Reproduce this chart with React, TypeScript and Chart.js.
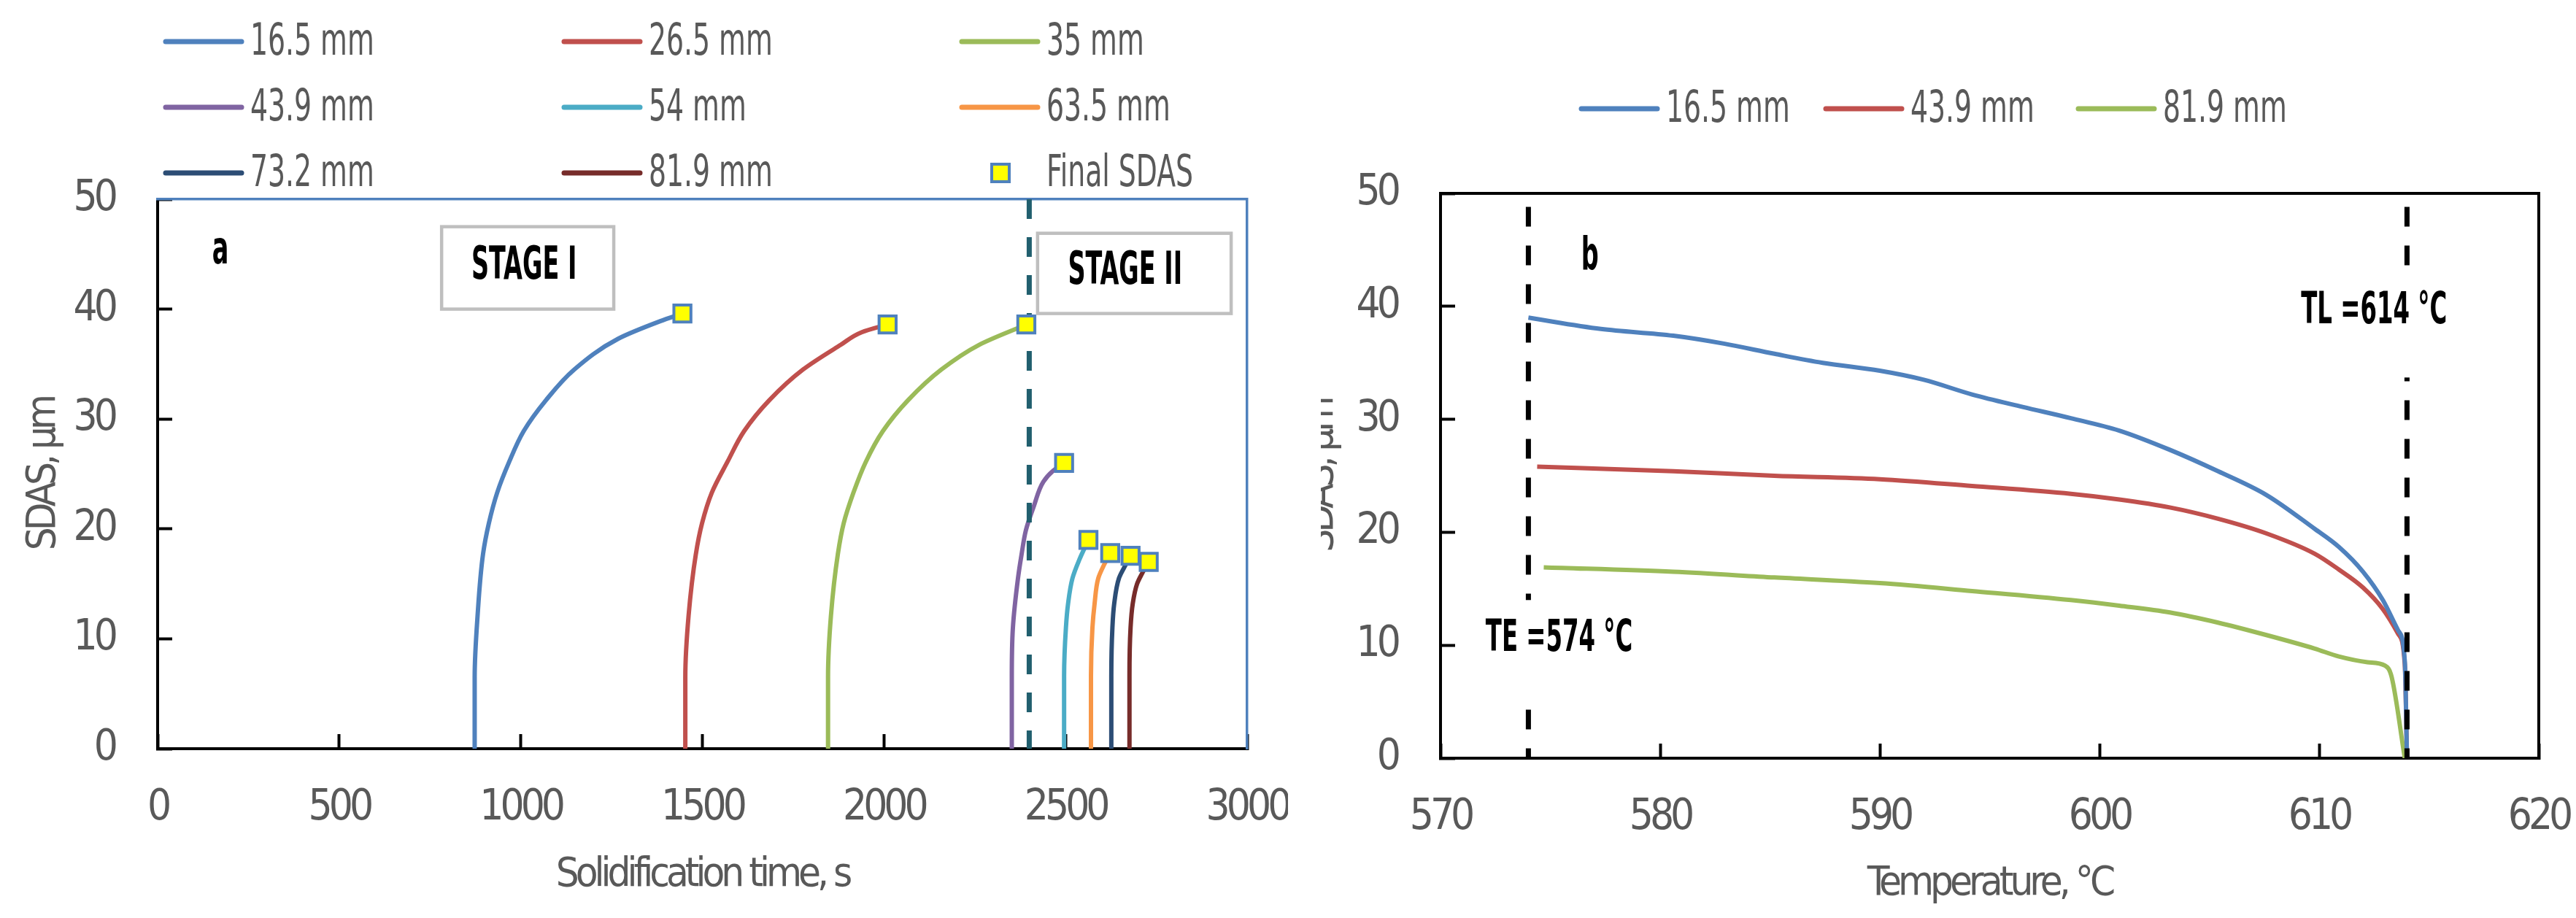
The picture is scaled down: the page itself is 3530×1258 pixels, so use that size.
import { useEffect, useRef } from "react";
import { Chart, registerables } from "chart.js";

Chart.register(...registerables);

const FONT = "'Liberation Sans Narrow', 'Arial Narrow', 'DejaVu Sans Condensed', sans-serif";
const GRAY = "#595959";

type Pair = [number, number];

// ---- panel a: SDAS vs solidification time ----
const distancesA = ["16.5 mm", "26.5 mm", "35 mm", "43.9 mm", "54 mm", "63.5 mm", "73.2 mm", "81.9 mm"];
const colorsA = ["#4F81BD", "#C0504D", "#9BBB59", "#8064A2", "#4BACC6", "#F79646", "#2C4D75", "#772C2A"];

const growth165: Pair[] = [[873, 0], [873, 6.5], [881, 12.1], [896, 17.7], [912, 20.5], [935, 23.3], [968, 26.1], [1008, 28.9], [1069, 31.7], [1147, 34.5], [1268, 37.3], [1384, 38.9], [1445, 39.6]];
const growth265: Pair[] = [[1453, 0], [1453, 6.5], [1462, 12.1], [1482, 17.7], [1499, 20.5], [1526, 23.3], [1569, 26.1], [1615, 28.9], [1684, 31.7], [1777, 34.5], [1881, 36.75], [1939, 37.9], [2010, 38.6]];
const growth35: Pair[] = [[1846, 0], [1846, 6.5], [1854, 12.1], [1873, 17.7], [1889, 20.5], [1916, 23.3], [1950, 26.1], [1997, 28.9], [2066, 31.7], [2158, 34.5], [2262, 36.75], [2392, 38.6]];
const growth439: Pair[] = [[2352, 0], [2352, 6.6], [2355, 11.0], [2369, 15.5], [2379, 17.7], [2391, 19.9], [2413, 22.1], [2439, 24.3], [2466, 25.3], [2496, 26.0]];
const growth54: Pair[] = [[2496, 0], [2496, 6.6], [2501, 11.0], [2507, 13.2], [2519, 15.5], [2538, 17.2], [2563, 19.0]];
const growth635: Pair[] = [[2570, 0], [2570, 6.6], [2574, 11.0], [2580, 13.2], [2590, 15.5], [2607, 16.8], [2623, 17.8]];
const growth732: Pair[] = [[2626, 0], [2626, 6.6], [2629, 11.0], [2634, 13.2], [2647, 15.5], [2660, 16.4], [2679, 17.55]];
const growth819: Pair[] = [[2676, 0], [2676, 6.6], [2679, 11.0], [2685, 13.2], [2697, 15.0], [2710, 15.9], [2729, 17.0]];
const growthA = [growth165, growth265, growth35, growth439, growth54, growth635, growth732, growth819];

const finalTime = [1445, 2010, 2392, 2496, 2563, 2623, 2679, 2729];
const finalSdas = [39.6, 38.6, 38.6, 26.0, 19.0, 17.8, 17.55, 17.0];
const stageBoundary = 2400;

// ---- panel b: SDAS vs temperature ----
const distancesB = ["16.5 mm", "43.9 mm", "81.9 mm"];
const colorsB = ["#4F81BD", "#C0504D", "#9BBB59"];

const temp165: Pair[] = [[574.0, 39.0], [577.3, 38.0], [580.6, 37.4], [582.9, 36.7], [585.2, 35.8], [587.4, 35.0], [590, 34.3], [592, 33.5], [594.2, 32.2], [596.5, 31.1], [598.7, 30.1], [600.9, 29.0], [603.2, 27.3], [605.4, 25.4], [607.6, 23.3], [609.8, 20.3], [610.9, 18.7], [612.0, 16.5], [612.9, 14.0], [613.6, 11.3], [613.9, 8.6], [614.0, 0]];
const temp439: Pair[] = [[574.4, 25.8], [580.6, 25.4], [585.2, 25.0], [590, 24.7], [594.2, 24.1], [598.7, 23.4], [600.9, 22.9], [603.2, 22.2], [605.4, 21.2], [607.6, 19.9], [609.8, 18.1], [610.9, 16.7], [612.0, 15.1], [612.9, 13.2], [613.6, 11.0], [613.9, 8.3], [614.0, 0]];
const temp819: Pair[] = [[574.7, 16.9], [580.6, 16.5], [585.2, 16.0], [590, 15.5], [594.2, 14.8], [598.7, 14.0], [600.9, 13.5], [603.2, 12.9], [605.4, 12.0], [607.6, 10.9], [609.8, 9.7], [610.9, 9.0], [612.2, 8.5], [613.0, 8.2], [613.3, 7.2], [613.9, 0]];
const tempB = [temp165, temp439, temp819];

const eutecticT = 574;
const liquidusT = 614;

const toPts = (a: Pair[]) => a.map(([x, y]) => ({ x, y }));

// the source uses a condensed face; tighten the fallback font for ticks and titles
const tightText = {
  id: "tightText",
  beforeDraw(chart: Chart, _a: unknown, opts: any) {
    (chart.ctx as any).letterSpacing = opts.spacing;
  },
  afterDraw(chart: Chart) {
    (chart.ctx as any).letterSpacing = "0px";
  },
};

// legend drawn in fixed slots (Excel-like grid)
const slotLegend = {
  id: "slotLegend",
  afterDraw(chart: Chart, _a: unknown, opts: any) {
    const { ctx } = chart;
    const items = chart.data.datasets.filter((d: any) => d.label);
    ctx.save();
    (ctx as any).letterSpacing = "0px";
    ctx.font = `60px ${FONT}`;
    ctx.textBaseline = "middle";
    items.forEach((ds: any, i: number) => {
      const s = opts.slots[i];
      if (!s) return;
      if (ds.showLine === false) {
        ctx.fillStyle = ds.pointBackgroundColor;
        ctx.strokeStyle = ds.pointBorderColor;
        ctx.lineWidth = 4;
        ctx.fillRect(s.x + 41, s.y - 12, 24, 24);
        ctx.strokeRect(s.x + 41, s.y - 12, 24, 24);
      } else {
        ctx.strokeStyle = ds.borderColor;
        ctx.lineWidth = 7;
        ctx.lineCap = "round";
        ctx.beginPath();
        ctx.moveTo(s.x, s.y);
        ctx.lineTo(s.x + 104, s.y);
        ctx.stroke();
      }
      ctx.save();
      ctx.translate(s.x + 116, s.y + 2);
      ctx.scale(0.7, 1);
      ctx.fillStyle = GRAY;
      ctx.fillText(ds.label, 0, 0);
      ctx.restore();
    });
    ctx.restore();
  },
};

// text labels and boxes placed in data coordinates
const overlay = {
  id: "overlay",
  afterDatasetsDraw(chart: Chart, _a: unknown, opts: any) {
    const { ctx } = chart;
    const xs = chart.scales.x;
    const ys = chart.scales.y;
    ctx.save();
    (ctx as any).letterSpacing = "0px";
    for (const b of opts.boxes || []) {
      const x1 = xs.getPixelForValue(b.x1);
      const x2 = xs.getPixelForValue(b.x2);
      const y1 = ys.getPixelForValue(b.y1);
      const y2 = ys.getPixelForValue(b.y2);
      ctx.fillStyle = "#fff";
      ctx.fillRect(x1, y1, x2 - x1, y2 - y1);
      if (b.stroke) {
        ctx.strokeStyle = b.stroke;
        ctx.lineWidth = 4.5;
        ctx.strokeRect(x1, y1, x2 - x1, y2 - y1);
      }
    }
    for (const t of opts.labels || []) {
      ctx.save();
      ctx.translate(xs.getPixelForValue(t.x), ys.getPixelForValue(t.y));
      ctx.scale(0.6, 1);
      ctx.font = `bold ${t.size}px ${FONT}`;
      ctx.fillStyle = "#000";
      ctx.textAlign = "center";
      ctx.textBaseline = "middle";
      ctx.fillText(t.text, 0, 0);
      ctx.restore();
    }
    ctx.restore();
  },
};

function mainAxes(xMin: number, xMax: number, xStep: number, xTitle: string, yTitlePad: number, yWidth: number, xHeight: number, xTitlePad: number) {
  const tickFont = { family: FONT, size: 58 };
  const titleFont = { family: FONT, size: 56 };
  const plain = (v: string | number) => String(v);
  return {
    x: {
      type: "linear" as const,
      min: xMin,
      max: xMax,
      ticks: { stepSize: xStep, color: GRAY, font: tickFont, padding: 67, maxRotation: 0, autoSkip: false, callback: plain },
      grid: { drawOnChartArea: false, tickLength: -20, tickWidth: 4, tickColor: "#000" },
      border: { color: "#000", width: 4 },
      title: { display: true, text: xTitle, color: GRAY, font: titleFont, padding: { top: 0, bottom: xTitlePad } },
      afterFit: (s: any) => {
        s.height = xHeight;
        s.paddingLeft = 0;
        s.paddingRight = 0;
      },
    },
    y: {
      type: "linear" as const,
      min: 0,
      max: 50,
      ticks: { stepSize: 10, color: GRAY, font: tickFont, padding: 79, callback: plain },
      grid: { drawOnChartArea: false, tickLength: -20, tickWidth: 4, tickColor: "#000" },
      border: { color: "#000", width: 4 },
      title: { display: true, text: "SDAS, µm", color: GRAY, font: titleFont, padding: { top: yTitlePad, bottom: 0 } },
      afterFit: (s: any) => {
        s.width = yWidth;
        s.paddingTop = 0;
        s.paddingBottom = 0;
      },
    },
  };
}

function frameAxes(color: string, width: number) {
  return {
    xTop: {
      type: "linear" as const,
      position: "top" as const,
      ticks: { display: false },
      grid: { display: false },
      border: { color, width },
      afterFit: (s: any) => { s.height = 0; },
    },
    yRight: {
      type: "linear" as const,
      position: "right" as const,
      ticks: { display: false },
      grid: { display: false },
      border: { color, width },
      afterFit: (s: any) => { s.width = 0; },
    },
  };
}

function PanelA() {
  const ref = useRef<HTMLCanvasElement>(null);
  useEffect(() => {
    if (!ref.current) return;
    // growth curves rise monotonically in SDAS, so interpolate along y
    const curves = growthA.map((pts, i) => ({
      label: distancesA[i],
      data: toPts(pts),
      indexAxis: "y",
      showLine: true,
      borderColor: colorsA[i],
      backgroundColor: colorsA[i],
      borderWidth: 6,
      pointRadius: 0,
      cubicInterpolationMode: "monotone",
      order: 2,
    }));
    const chart = new Chart(ref.current, {
      type: "scatter",
      data: {
        datasets: [
          ...curves,
          {
            label: "Final SDAS",
            data: finalTime.map((x, i) => ({ x, y: finalSdas[i] })),
            showLine: false,
            pointStyle: "rect",
            pointRadius: 16.5,
            pointBorderWidth: 4,
            pointBackgroundColor: "#FFFF00",
            pointBorderColor: "#4F81BD",
            order: 0,
          },
          {
            data: [{ x: stageBoundary, y: 50 }, { x: stageBoundary, y: 0 }],
            showLine: true,
            borderColor: "#215F6E",
            borderWidth: 7,
            borderDash: [27, 25],
            pointRadius: 0,
            order: 1,
          },
        ] as any,
      },
      options: {
        animation: false,
        responsive: true,
        maintainAspectRatio: false,
        events: [],
        layout: { padding: { top: 273, right: 56, left: 0, bottom: 0 } },
        scales: { ...mainAxes(0, 3000, 500, "Solidification time, s", 27, 216, 232, 25), ...frameAxes("#4F81BD", 3.5) } as any,
        plugins: {
          legend: { display: false },
          tooltip: { enabled: false },
          tightText: { spacing: "-5px" },
          slotLegend: {
            slots: [
              { x: 227, y: 57 }, { x: 773, y: 57 }, { x: 1318, y: 57 },
              { x: 227, y: 147 }, { x: 773, y: 147 }, { x: 1318, y: 147 },
              { x: 227, y: 237 }, { x: 773, y: 237 }, { x: 1318, y: 237 },
            ],
          },
          overlay: {
            boxes: [
              { x1: 782, x2: 1256, y1: 47.5, y2: 40.0, stroke: "#BFBFBF" },
              { x1: 2423, x2: 2956, y1: 46.9, y2: 39.6, stroke: "#BFBFBF" },
            ],
            labels: [
              { text: "a", x: 173, y: 45.2, size: 62 },
              { text: "STAGE I", x: 1009, y: 43.8, size: 62 },
              { text: "STAGE II", x: 2664, y: 43.4, size: 62 },
            ],
          },
        } as any,
      },
      plugins: [tightText, slotLegend, overlay],
    });
    return () => chart.destroy();
  }, []);
  return (
    <div style={{ position: "absolute", left: 0, top: 0, width: 1765, height: 1258 }}>
      <canvas ref={ref} />
    </div>
  );
}

function PanelB() {
  const ref = useRef<HTMLCanvasElement>(null);
  useEffect(() => {
    if (!ref.current) return;
    const curves = tempB.map((pts, i) => ({
      label: distancesB[i],
      data: toPts(pts),
      showLine: true,
      borderColor: colorsB[i],
      backgroundColor: colorsB[i],
      borderWidth: 6,
      pointRadius: 0,
      cubicInterpolationMode: "monotone",
      order: 1,
    }));
    const dashed = [eutecticT, liquidusT].map((t) => ({
      data: [{ x: t, y: 48.8 }, { x: t, y: 0 }],
      showLine: true,
      borderColor: "#000",
      borderWidth: 7,
      borderDash: [27, 26],
      pointRadius: 0,
      order: 0,
    }));
    const chart = new Chart(ref.current, {
      type: "scatter",
      data: { datasets: [...curves, ...dashed] as any },
      options: {
        animation: false,
        responsive: true,
        maintainAspectRatio: false,
        events: [],
        layout: { padding: { top: 265, right: 51, left: 0, bottom: 0 } },
        scales: { ...mainAxes(570, 620, 10, "Temperature, °C", -32, 164, 219, 13), ...frameAxes("#000", 4) } as any,
        plugins: {
          legend: { display: false },
          tooltip: { enabled: false },
          tightText: { spacing: "-5px" },
          slotLegend: {
            slots: [{ x: 357, y: 149 }, { x: 692, y: 149 }, { x: 1038, y: 149 }],
          },
          overlay: {
            boxes: [
              { x1: 571.9, x2: 578.8, y1: 14.0, y2: 4.6 },
              { x1: 608.8, x2: 616.3, y1: 43.5, y2: 33.7 },
            ],
            labels: [
              { text: "b", x: 576.8, y: 44.3, size: 62 },
              { text: "TE =574 °C", x: 575.4, y: 10.5, size: 60 },
              { text: "TL =614 °C", x: 612.5, y: 39.5, size: 60 },
            ],
          },
        } as any,
      },
      plugins: [tightText, slotLegend, overlay],
    });
    return () => chart.destroy();
  }, []);
  return (
    <div style={{ position: "absolute", left: 1810, top: 0, width: 1720, height: 1258 }}>
      <canvas ref={ref} />
    </div>
  );
}

export default function App() {
  return (
    <div style={{ position: "absolute", left: 0, top: 0, width: 3530, height: 1258, background: "#fff", overflow: "hidden" }}>
      <PanelA />
      <PanelB />
    </div>
  );
}
